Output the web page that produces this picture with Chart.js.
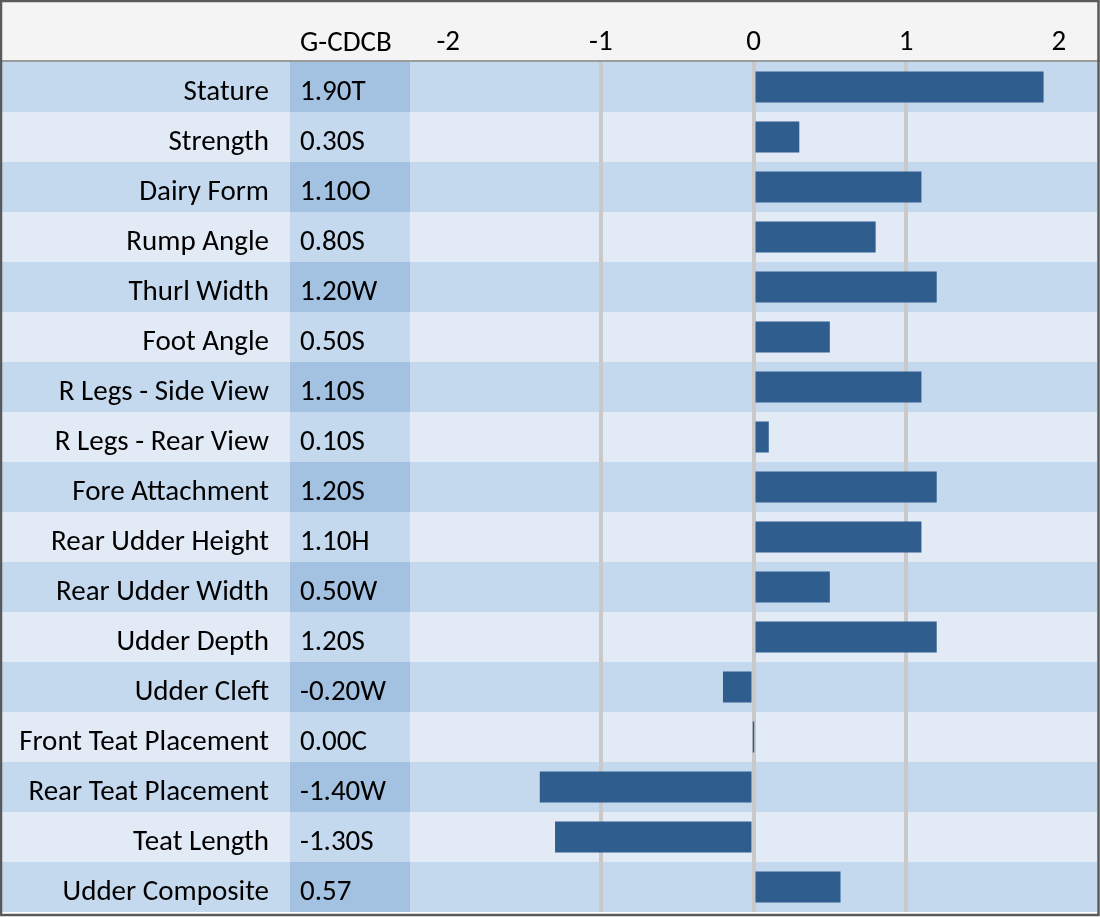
<!DOCTYPE html>
<html>
<head>
<meta charset="utf-8">
<title>Linear Type Traits</title>
<script src="https://cdn.jsdelivr.net/npm/chart.js@4/dist/chart.umd.min.js"></script>
<style>
  html, body { margin: 0; padding: 0; background: #ffffff; }
  #wrap { width: 1100px; height: 917px; }
  canvas { display: block; }
</style>
</head>
<body>
<div id="wrap"><canvas id="traits" width="1100" height="917"></canvas></div>
<script>
// ---- data ----
const traits = [
    'Stature', 'Strength', 'Dairy Form', 'Rump Angle', 'Thurl Width', 'Foot Angle',
    'R Legs - Side View', 'R Legs - Rear View', 'Fore Attachment', 'Rear Udder Height',
    'Rear Udder Width', 'Udder Depth', 'Udder Cleft', 'Front Teat Placement',
    'Rear Teat Placement', 'Teat Length', 'Udder Composite'
];
const values = [1.90, 0.30, 1.10, 0.80, 1.20, 0.50, 1.10, 0.10, 1.20, 1.10, 0.50, 1.20, -0.20, 0.00, -1.40, -1.30, 0.57];
const cdcbLabels = [
    '1.90T', '0.30S', '1.10O', '0.80S', '1.20W', '0.50S', '1.10S', '0.10S', '1.20S',
    '1.10H', '0.50W', '1.20S', '-0.20W', '0.00C', '-1.40W', '-1.30S', '0.57'
];
const columnTitle = 'G-CDCB';
const xTicks = [-2, -1, 0, 1, 2];
const gridAt = [-1, 0, 1];

const FONT = '"Carlito", "Calibri", "Lato", sans-serif';
const FONT_SIZE = 29;

// ---- table look: row bands, G-CDCB column, header and frame ----
const tablePlugin = {
    id: 'tablePlugin',
    beforeDraw(chart) {
        const { ctx, chartArea, scales } = chart;
        const y = scales.y;
        const rowH = y.height / traits.length;
        ctx.save();
        // header
        ctx.fillStyle = '#f4f4f4';
        ctx.fillRect(0, 0, chart.width, chartArea.top);
        // rows
        traits.forEach((t, i) => {
            const top = y.getPixelForValue(i) - rowH / 2;
            ctx.fillStyle = i % 2 === 0 ? '#c5d9ee' : '#e2eaf5';
            ctx.fillRect(0, top, chartArea.right, rowH);
            ctx.fillStyle = i % 2 === 0 ? '#a3c1e0' : '#c5d9ee';
            ctx.fillRect(290, top, chartArea.left - 290, rowH);
        });
        ctx.restore();
    },
    afterDraw(chart) {
        const { ctx, chartArea, scales } = chart;
        const y = scales.y;
        ctx.save();
        ctx.font = `${FONT_SIZE}px ${FONT}`;
        ctx.fillStyle = '#000000';
        ctx.textAlign = 'left';
        ctx.textBaseline = 'middle';
        cdcbLabels.forEach((lbl, i) => {
            ctx.fillText(lbl, 300, y.getPixelForValue(i) + 6);
        });
        ctx.fillText(columnTitle, 300, 44);

        // header separator
        ctx.strokeStyle = '#7f7f7f';
        ctx.lineWidth = 1.5;
        ctx.beginPath();
        ctx.moveTo(0, chartArea.top - 1);
        ctx.lineTo(chart.width, chartArea.top - 1);
        ctx.stroke();

        // outer frame
        ctx.strokeStyle = '#595959';
        ctx.lineWidth = 2.5;
        ctx.strokeRect(1, 1, chart.width - 2.5, chart.height - 3);
        ctx.restore();
    }
};

new Chart(document.getElementById('traits'), {
    type: 'bar',
    data: {
        labels: traits,
        datasets: [{
            data: values,
            backgroundColor: '#2f5d8e',
            borderWidth: 0,
            barPercentage: 0.62,
            categoryPercentage: 1,
            minBarLength: 1.5,
        }]
    },
    options: {
        indexAxis: 'y',
        responsive: false,
        animation: false,
        layout: { padding: { top: 0, left: 0, right: 3, bottom: 5 } },
        plugins: {
            legend: { display: false },
            tooltip: { enabled: false },
        },
        scales: {
            x: {
                position: 'top',
                min: -2.25,
                max: 2.25,
                afterBuildTicks: scale => { scale.ticks = xTicks.map(v => ({ value: v })); },
                afterFit: scale => {
                    scale.height = 62;
                    scale.paddingLeft = 0;
                    scale.paddingRight = 0;
                },
                border: { display: false },
                grid: {
                    drawTicks: false,
                    lineWidth: 4,
                    color: c => gridAt.includes(c.tick && c.tick.value) ? '#c9c9c9' : 'rgba(0,0,0,0)',
                },
                ticks: {
                    color: '#000000',
                    padding: 2,
                    font: { family: FONT, size: FONT_SIZE },
                    callback: v => String(v),
                },
            },
            y: {
                afterFit: scale => {
                    scale.width = 410;
                    scale.paddingTop = 0;
                    scale.paddingBottom = 0;
                },
                border: { display: false },
                grid: { display: false, drawTicks: false },
                ticks: {
                    color: '#000000',
                    padding: 141,
                    labelOffset: 6,
                    font: { family: FONT, size: FONT_SIZE },
                },
            },
        },
    },
    plugins: [tablePlugin],
});
</script>
</body>
</html>
